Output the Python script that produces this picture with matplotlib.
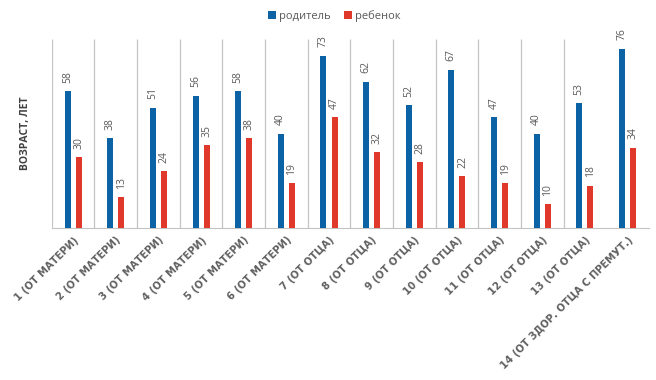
import matplotlib.pyplot as plt
import numpy as np

# data
labels = ["1 (ОТ МАТЕРИ)", "2 (ОТ МАТЕРИ)", "3 (ОТ МАТЕРИ)", "4 (ОТ МАТЕРИ)",
          "5 (ОТ МАТЕРИ)", "6 (ОТ МАТЕРИ)", "7 (ОТ ОТЦА)", "8 (ОТ ОТЦА)",
          "9 (ОТ ОТЦА)", "10 (ОТ ОТЦА)", "11 (ОТ ОТЦА)", "12 (ОТ ОТЦА)",
          "13 (ОТ ОТЦА)", "14 (ОТ ЗДОР. ОТЦА С ПРЕМУТ.)"]
parent = [58, 38, 51, 56, 58, 40, 73, 62, 52, 67, 47, 40, 53, 76]
child = [30, 13, 24, 35, 38, 19, 47, 32, 28, 22, 19, 10, 18, 34]

BLUE = "#0B63A5"
RED = "#E0382A"
GREY = "#595959"

plt.rcParams["font.family"] = ["Open Sans", "DejaVu Sans"]

fig = plt.figure(figsize=(6.56, 3.8), dpi=100)
ax = fig.add_axes([0.079, 0.4, 0.91, 0.497])

x = np.arange(len(labels))
w = 0.14
off = 0.13
b1 = ax.bar(x - off, parent, w, color=BLUE, label="родитель", zorder=3)
b2 = ax.bar(x + off, child, w, color=RED, label="ребенок", zorder=3)

for bars in (b1, b2):
    for r in bars:
        ax.annotate(str(int(r.get_height())),
                    (r.get_x() + r.get_width() / 2, r.get_height()),
                    xytext=(0, 6), textcoords="offset points",
                    rotation=90, ha="center", va="bottom",
                    fontsize=7.5, color=GREY)

# category separators
ax.vlines(np.arange(len(labels) - 1) - 0.5, 0, 80, color="#c4c4c4", lw=0.9, zorder=1)

ax.set_xlim(-0.5, len(labels) - 0.5)
ax.set_ylim(0, 80)
ax.set_yticks([])
for s in ["top", "right", "left"]:
    ax.spines[s].set_visible(False)
ax.spines["bottom"].set_color("#c4c4c4")
ax.tick_params(axis="x", length=0, pad=5)
ax.set_xticks(x)
ax.set_xticklabels(labels, rotation=45, ha="right", rotation_mode="anchor",
                   fontsize=7.2, fontweight="bold", color="#606060", family="DejaVu Sans")

ax.set_ylabel("ВОЗРАСТ, ЛЕТ", fontsize=7.5, fontweight="bold", color="#404040", labelpad=15)

fig.legend(handles=[b1, b2], loc="upper center", bbox_to_anchor=(0.51, 1.0), ncol=2,
           frameon=False, fontsize=8, handlelength=0.7, handleheight=0.7,
           handletextpad=0.3, columnspacing=1.2, labelcolor=GREY)

fig.savefig("out.png", dpi=100)
